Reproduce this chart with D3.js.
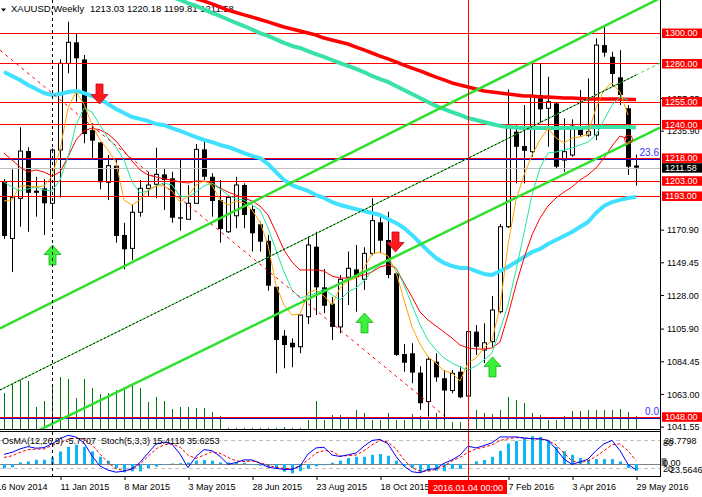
<!DOCTYPE html>
<html>
<head>
<meta charset="utf-8">
<script src="https://d3js.org/d3.v7.min.js"></script>
<style>
  body { margin: 0; background: #fff; }
  svg { display: block; font-family: "Liberation Sans", Arial, sans-serif; font-size: 9px; }
</style>
</head>
<body>
<div id="chart"></div>
<script>
// XAUUSD weekly bars (bar 0 = 23 Nov 2014, bar 79 = 29 May 2016)
const opens = [1202.4,1165.1,1191.5,1222.5,1196.5,1198.0,1188.2,1223.2,1280.1,1293.9,
  1282.7,1236.3,1228.2,1202.0,1212.9,1167.4,1158.6,1182.3,1198.0,1200.7,
  1207.2,1204.6,1179.0,1177.7,1188.2,1223.6,1205.6,1190.3,1169.5,1180.0,
  1200.2,1184.4,1174.4,1163.6,1133.4,1101.2,1096.6,1094.0,1113.7,1159.7,
  1133.0,1122.3,1107.0,1139.6,1144.8,1138.3,1155.3,1175.7,1164.1,1142.2,
  1089.2,1089.7,1077.0,1058.0,1084.2,1073.3,1065.2,1077.6,1061.6,1103.9,
  1091.9,1097.3,1117.0,1172.8,1235.2,1225.8,1222.1,1259.3,1250.6,1253.8,
  1216.6,1219.9,1238.9,1233.0,1233.0,1292.1,1284.4,1270.9,1250.6,1213.03];
const highs = [1204.1,1210.5,1238.1,1225.0,1205.6,1204.0,1224.3,1282.7,1307.4,1299.8,
  1285.6,1240.7,1228.2,1219.9,1216.6,1175.4,1187.1,1203.5,1208.9,1224.7,
  1211.2,1208.9,1217.1,1200.2,1227.1,1230.2,1207.9,1203.5,1193.0,1205.6,
  1201.3,1187.1,1176.1,1167.4,1133.4,1105.0,1099.5,1114.8,1166.3,1169.5,
  1145.0,1126.7,1141.1,1156.5,1160.8,1159.3,1191.5,1181.6,1182.7,1143.0,
  1095.8,1096.3,1081.2,1087.5,1089.7,1078.7,1078.7,1081.2,1106.0,1108.2,
  1109.4,1127.3,1174.6,1263.0,1239.6,1252.7,1280.1,1280.1,1271.3,1254.5,
  1244.0,1243.3,1262.6,1270.2,1296.5,1304.1,1287.7,1288.8,1252.7,1220.18];
const lows = [1164.7,1143.0,1172.8,1169.5,1179.4,1167.4,1179.0,1192.0,1273.5,1254.9,
  1227.6,1216.6,1197.4,1190.3,1162.3,1144.8,1150.9,1179.4,1192.5,1191.5,
  1183.8,1175.4,1170.2,1177.7,1188.2,1203.5,1179.4,1162.3,1168.7,1171.8,
  1171.8,1156.5,1156.5,1130.8,1076.6,1079.8,1080.5,1089.7,1108.9,1114.8,
  1116.0,1098.4,1102.8,1121.4,1117.0,1131.3,1154.0,1155.3,1138.9,1088.0,
  1077.6,1070.0,1052.5,1048.1,1071.0,1045.9,1063.4,1060.2,1061.0,1088.6,
  1083.1,1094.0,1116.0,1172.0,1201.3,1201.3,1218.8,1240.7,1225.3,1211.2,
  1208.9,1218.8,1231.9,1231.9,1229.7,1284.4,1264.7,1252.7,1206.8,1199.81];
const closes = [1166.7,1191.9,1222.5,1195.1,1195.1,1188.2,1223.2,1280.1,1293.9,1283.4,
  1233.7,1229.3,1202.0,1212.9,1166.7,1158.0,1182.3,1198.0,1200.2,1207.2,
  1203.5,1178.7,1178.1,1188.2,1223.6,1205.6,1189.7,1171.3,1192.1,1200.2,
  1180.5,1168.5,1163.0,1134.1,1098.4,1095.1,1093.6,1114.8,1160.8,1133.0,
  1120.9,1107.0,1138.3,1145.5,1139.6,1155.3,1176.8,1163.6,1141.1,1088.6,
  1083.5,1077.0,1056.9,1085.8,1073.9,1065.2,1076.5,1060.8,1103.9,1094.0,
  1096.6,1118.1,1172.8,1238.9,1225.3,1222.7,1258.6,1249.9,1254.9,1212.2,
  1222.1,1238.9,1233.0,1235.2,1292.1,1287.1,1273.1,1259.3,1212.2,1211.58];
// tick volume (thousands)
const volumes = [39,48,52,51,25,31,47,55,53,34, 53,44,38,39,42,43,47,44,30,35,
  31,23,25,25,24,24,20,16,4,4, 4,4,4,4,4,5,4,4,12,31,
  12,17,17,15,22,19,12,12,19,12, 12,18,16,12,19,18,10,10,10,22,
  19,18,22,35,32,29,19,17,12,12, 16,21,21,22,22,22,22,23,20,16];

// moving averages
const maFast = [1189.7,1190.4,1199.6,1199.6,1198.9,1199.6,1206.1,1223.2,1250.8,1261.3,
  1253.4,1239.6,1229.8,1223.2,1215.3,1190.4,1187.1,1190.4,1196.9,1199.6,
  1199.6,1196.3,1189.0,1193.0,1200.2,1202.8,1200.2,1190.4,1187.1,1189.7,
  1188.4,1183.8,1175.9,1160.8,1134.5,1121.4,1114.8,1115.5,1129.3,1131.3,
  1127.3,1121.4,1132.6,1137.2,1139.1,1145.7,1154.9,1156.2,1153.6,1143.1,
  1124.7,1107.0,1095.8,1087.3,1083.3,1078.1,1076.8,1071.5,1083.3,1086.6,
  1093.2,1098.4,1120.1,1160.8,1190.4,1206.8,1219.9,1229.8,1237.6,1231.1,
  1227.8,1231.1,1231.7,1233.7,1250.8,1262.6,1267.2,1261.3,1246.2,null];
const maMid = [1202.2,1198.9,1196.3,1197.6,1198.9,1196.9,1196.3,1203.5,1218.6,1239.6,
  1250.8,1248.1,1239.6,1231.1,1225.2,1216.6,1202.2,1195.0,1196.3,1199.6,
  1201.5,1200.2,1193.0,1192.3,1195.6,1199.6,1201.5,1197.6,1193.6,1191.0,
  1190.4,1187.1,1183.8,1172.0,1157.5,1143.1,1131.3,1126.0,1127.3,1129.3,
  1131.9,1128.0,1124.7,1129.9,1132.6,1137.2,1143.7,1147.7,1150.3,1145.7,
  1134.5,1121.4,1108.3,1098.4,1091.9,1086.6,1083.3,1080.7,1078.7,1081.3,
  1085.3,1089.9,1105.0,1121.4,1144.4,1168.7,1193.6,1211.4,1221.2,1221.9,
  1223.2,1224.5,1226.5,1228.4,1233.0,1242.9,1252.7,1258.0,1256.0,null];
const maSlow = [1221.2,1216.6,1212.0,1208.7,1210.1,1208.7,1206.1,1208.7,1218.6,1229.8,
  1235.7,1237.6,1236.3,1233.7,1229.1,1222.5,1216.0,1210.1,1206.8,1205.5,
  1204.2,1203.5,1202.2,1201.5,1202.8,1202.8,1201.5,1198.2,1195.6,1193.6,
  1191.7,1189.7,1186.4,1180.5,1169.3,1157.5,1149.6,1144.4,1144.4,1144.4,
  1143.7,1140.4,1139.1,1139.1,1139.8,1141.1,1143.1,1146.4,1147.7,1145.7,
  1135.9,1126.7,1116.8,1111.6,1107.6,1103.7,1099.7,1095.1,1093.2,1092.5,
  1092.5,1093.2,1097.1,1114.8,1134.5,1152.3,1167.4,1178.5,1186.4,1191.7,
  1195.6,1198.9,1203.5,1206.8,1211.4,1217.9,1225.8,1232.4,1230.5,null];
const ma50 = [1274.4,1271.8,1269.2,1265.9,1263.3,1260.6,1259.3,1260.0,1261.3,1261.9,
  1260.6,1258.7,1256.7,1253.4,1250.1,1247.5,1244.9,1243.6,1242.2,1240.3,
  1239.6,1237.6,1235.7,1233.7,1231.7,1229.8,1228.4,1226.5,1225.2,1223.2,
  1221.2,1219.3,1217.9,1214.0,1208.7,1203.5,1200.2,1198.2,1196.3,1193.6,
  1191.7,1189.0,1187.1,1185.8,1184.4,1183.1,1181.8,1180.5,1177.9,1175.3,
  1172.0,1167.4,1162.1,1156.9,1152.3,1149.0,1147.0,1145.7,1145.7,1143.7,
  1141.8,1141.1,1143.7,1146.4,1149.6,1152.9,1156.2,1158.2,1161.5,1164.1,
  1166.7,1169.3,1172.6,1175.9,1181.8,1186.4,1189.0,1190.4,1191.7,1192.3];
const ma100 = [null,null,null,null,null,null,null,null,null,null,
  null,null,null,null,null,null,null,null,null,null,
  null,1323.7,1321.7,1319.7,1317.8,1315.5,1313.2,1311.2,1308.9,1306.6,
  1304.6,1302.3,1300.0,1298.1,1295.8,1293.5,1291.5,1290.2,1288.2,1286.2,
  1284.3,1282.3,1280.3,1278.4,1276.4,1274.4,1271.8,1269.8,1267.9,1265.2,
  1262.6,1260.0,1257.3,1254.7,1252.1,1250.1,1248.1,1246.2,1244.2,1242.9,
  1241.6,1240.3,1239.0,1238.3,1238.0,1237.6,1237.6,1237.6,1237.6,1237.6,
  1237.6,1237.6,1237.6,1238.0,1238.3,1238.3,1238.3,1238.3,1238.3,1238.0];
const ma200 = [null,null,null,null,null,null,null,null,null,null,
  null,null,null,null,null,null,null,null,null,null,
  null,null,null,null,1322.4,1321.0,1319.1,1317.1,1315.1,1313.5,
  1311.9,1310.5,1308.9,1307.3,1305.6,1304.0,1302.7,1301.3,1300.0,1298.7,
  1296.7,1295.4,1294.1,1292.8,1290.8,1288.9,1286.9,1284.9,1283.0,1281.0,
  1279.0,1277.0,1275.1,1273.1,1271.1,1269.2,1267.2,1265.9,1264.6,1263.3,
  1261.9,1261.3,1260.6,1260.0,1259.3,1258.7,1258.7,1258.0,1258.0,1257.7,
  1257.3,1257.3,1257.0,1256.7,1256.7,1256.7,1256.7,1256.7,1256.4,1256.4];

// OsMA(12,26,9) and Stoch(5,3,3)
const osma = [-3.8,-2.9,1.4,2.2,3.7,3.7,5.7,10.9,15.0,16.7,
  15.0,10.9,6.3,2.9,-3.5,-7.3,-6.4,-6.4,-3.5,-2.3,
  -0.9,0.4,0.7,1.3,2.9,3.5,2.9,1.4,1.4,1.7,
  1.1,-0.9,-1.5,-2.9,-4.3,-6.7,-8.1,-6.3,-4.3,-2.0,
  -1.1,1.1,2.9,5.2,6.3,6.3,8.0,8.6,7.2,2.9,
  -1.5,-3.5,-7.2,-6.3,-5.8,-6.3,-4.3,-4.3,-0.9,2.3,
  3.5,6.3,11.5,17.9,20.1,22.5,24.2,23.6,21.0,15.0,
  11.2,8.0,5.2,3.6,4.3,4.3,4.3,2.3,-3.5,-5.7707];
const stochMain = [49.4,53.9,61.4,66.5,62.9,64.3,72.6,83.9,91.4,87.8,
  74.9,46.2,23.7,14.7,10.2,12.4,17.8,31.4,52.3,72.0,
  76.5,72.0,50.1,20.1,44.9,59.8,57.5,44.9,27.5,31.4,
  37.2,37.2,29.8,21.4,18.5,16.2,16.2,23.7,50.1,63.6,
  65.2,47.8,44.9,48.3,52.3,67.4,80.1,82.3,72.6,44.9,
  23.7,11.1,8.8,16.2,17.8,29.8,37.2,47.8,67.4,63.6,
  68.8,74.9,87.8,87.8,87.8,85.5,83.9,83.9,80.1,61.4,
  38.8,27.5,32.7,38.8,57.5,72.6,80.1,57.5,27.5,15.4];
const stochSignal = [42.6,46.2,53.9,59.8,60.7,61.4,68.8,74.9,82.3,85.5,
  82.3,70.4,50.1,31.4,17.8,13.3,16.2,27.5,44.9,61.4,
  70.4,72.6,65.2,47.8,40.4,47.8,55.3,51.7,42.6,35.0,
  33.6,35.0,31.4,25.3,20.8,18.5,17.8,23.7,37.2,52.3,
  57.5,56.2,45.6,46.7,47.8,57.5,70.4,80.1,76.5,61.4,
  37.2,20.1,12.4,12.4,16.2,23.7,35.0,42.6,53.9,61.4,
  65.2,70.4,80.1,83.9,86.2,85.5,83.9,82.3,80.1,70.4,
  52.3,35.0,31.4,35.0,44.9,57.5,70.4,72.6,57.5,35.6];

// horizontal levels, fibo, trend lines (bar index, price), arrows
const levels = [1300, 1280, 1255, 1240, 1218, 1203, 1193, 1048];
const fiboLevels = [1047.2, 1217.6];
const fiboLabels = ['0.0', '23.6'];
const lastPrice = 1211.58;
const channelUpper = [[0, 1107.4], [80, 1317.6]];
const channelLower = [[10, 1053.6], [79, 1230.2]];
const channelMid = [[0, 1066.9], [79, 1272.4]];
const downTrend = [[-0.5, 1288.7], [55, 1048.8]];
const upArrows = [[6, 1160.8], [45, 1116.2], [61, 1087.3]];
const downArrows = [[12, 1253.4], [49, 1156.2]];
const stopMark = [78, 1230.3];
const markedBar = 6;     // dashed vertical
const crossBar = 58;     // crosshair
const crossLabel = '2016.01.04 00:00';

// axis labels that are not hidden behind the level boxes
const priceTicks = [1041.55, 1063.00, 1084.45, 1105.90, 1128.00, 1149.45, 1170.90,
  1235.90, 1257.35];
const dateTicks = [-1, 7, 15, 23, 31, 39, 47, 63, 71, 79];
const dateLabels = ['16 Nov 2014', '11 Jan 2015', '8 Mar 2015', '3 May 2015', '28 Jun 2015',
  '23 Aug 2015', '18 Oct 2015', '7 Feb 2016', '3 Apr 2016', '29 May 2016'];

// ---- layout
let width = 702, height = 497;
let plotRight = 660, mainBottom = 429, subTop = 432, subBottom = 476;

let svg = d3.select('#chart')
  .append('svg')
  .attr('width', width)
  .attr('height', height)
  .style('background', '#fff');

let x = d3.scaleLinear().domain([0, 79]).range([4, 636]);
let y = d3.scaleLinear().domain([1038.0, 1321.7]).range([432, 0]);
let vol = d3.scaleLinear().domain([0, 100]).range([432, 332]);
let stoY = d3.scaleLinear().domain([0, 100]).range([476.8, 431.4]);
let osY = d3.scaleLinear().domain([0, 28.7798]).range([464, 431]);

const crisp = v => Math.round(v) + 0.5;

let defs = svg.append('defs');
defs.append('clipPath').attr('id', 'clipMain')
  .append('rect').attr('x', 0).attr('y', 0).attr('width', plotRight).attr('height', mainBottom);
defs.append('clipPath').attr('id', 'clipSub')
  .append('rect').attr('x', 0).attr('y', subTop).attr('width', plotRight).attr('height', subBottom - subTop);

// title
svg.append('path').attr('d', 'M1,8.5 L6,8.5 L3.5,11.5 Z').attr('fill', '#000');
svg.append('text').attr('x', 11).attr('y', 12).style('font-size', '9.5px').text('XAUUSD,Weekly');
svg.append('text').attr('x', 90).attr('y', 12).style('font-size', '9.5px')
  .text([opens[79], highs[79], lows[79], closes[79]].map(d => d.toFixed(2)).join(' '));

let main = svg.append('g').attr('clip-path', 'url(#clipMain)');

// volumes
main.selectAll('.vol')
  .data(volumes)
  .enter().append('line')
  .attr('x1', (d, i) => x(i) + 0.5).attr('x2', (d, i) => x(i) + 0.5)
  .attr('y1', vol(0)).attr('y2', d => vol(d))
  .attr('stroke', '#008000').attr('stroke-width', 1);

// candles
let bars = d3.range(opens.length);
main.selectAll('.wick')
  .data(bars)
  .enter().append('line')
  .attr('x1', i => x(i) + 0.5).attr('x2', i => x(i) + 0.5)
  .attr('y1', i => y(highs[i])).attr('y2', i => y(lows[i]))
  .attr('stroke', '#000').attr('stroke-width', 1);

main.selectAll('.body')
  .data(bars)
  .enter().append('rect')
  .attr('x', i => closes[i] >= opens[i] ? x(i) - 1.5 : x(i) - 2)
  .attr('width', i => closes[i] >= opens[i] ? 4 : 5)
  .attr('y', i => y(Math.max(opens[i], closes[i])))
  .attr('height', i => Math.max(1, Math.abs(y(opens[i]) - y(closes[i]))))
  .attr('fill', i => closes[i] >= opens[i] ? '#fff' : '#000')
  .attr('stroke', i => closes[i] >= opens[i] ? '#000' : 'none')
  .attr('stroke-width', 1);

// horizontal levels
main.selectAll('.lvl')
  .data(levels)
  .enter().append('line')
  .attr('x1', 0).attr('x2', plotRight)
  .attr('y1', d => crisp(y(d))).attr('y2', d => crisp(y(d)))
  .attr('stroke', '#ff0000').attr('stroke-width', 1);

main.selectAll('.fib')
  .data(fiboLevels)
  .enter().append('line')
  .attr('x1', 0).attr('x2', plotRight)
  .attr('y1', d => crisp(y(d))).attr('y2', d => crisp(y(d)))
  .attr('stroke', '#1010c8').attr('stroke-width', 1);

main.append('line')
  .attr('x1', 0).attr('x2', plotRight)
  .attr('y1', crisp(y(lastPrice))).attr('y2', crisp(y(lastPrice)))
  .attr('stroke', '#c0c0c0');

main.selectAll('.fibtxt')
  .data(fiboLevels)
  .enter().append('text')
  .attr('x', 659).attr('y', d => y(d) - 3)
  .attr('text-anchor', 'end')
  .attr('fill', '#3333ff')
  .style('font-size', '10px')
  .text((d, i) => fiboLabels[i]);

// moving averages
function maLine(values) {
  return d3.line()
    .defined(d => d != null)
    .x((d, i) => x(i))
    .y(d => y(d))(values);
}
const maStyles = [
  { data: ma50,  color: '#40e0ff', w: 4 },
  { data: ma100, color: '#38e2a6', w: 4 },
  { data: ma200, color: '#ff0000', w: 3.5 },
  { data: maSlow, color: '#ff0000', w: 1 },
  { data: maMid,  color: '#1ee89a', w: 1 },
  { data: maFast, color: '#ffa500', w: 1 }
];
maStyles.forEach(s => {
  main.append('path')
    .attr('d', maLine(s.data))
    .attr('fill', 'none')
    .attr('stroke', s.color)
    .attr('stroke-width', s.w)
    .attr('stroke-linejoin', 'round');
});

// trend lines (rays extended across the window)
function ray(pts, iFrom, iTo) {
  let k = (pts[1][1] - pts[0][1]) / (pts[1][0] - pts[0][0]);
  let at = i => pts[0][1] + k * (i - pts[0][0]);
  return [[x(iFrom), y(at(iFrom))], [x(iTo), y(at(iTo))]];
}
const xEdge = x.invert(plotRight), xLeft = x.invert(0);

main.append('path').attr('d', d3.line()(ray(channelUpper, xLeft, xEdge)))
  .attr('stroke', '#2fe02f').attr('stroke-width', 2.5).attr('fill', 'none');
main.append('path').attr('d', d3.line()(ray(channelLower, xLeft, xEdge)))
  .attr('stroke', '#2fe02f').attr('stroke-width', 2.5).attr('fill', 'none');

main.append('path').attr('d', d3.line()(ray(channelMid, xLeft, 79)))
  .attr('stroke', '#2fe02f').attr('stroke-width', 1).attr('fill', 'none');
main.append('path').attr('d', d3.line()(ray(channelMid, xLeft, 79)))
  .attr('stroke', '#000').attr('stroke-width', 1).attr('stroke-dasharray', '2,2').attr('fill', 'none');
main.append('path').attr('d', d3.line()(ray(channelMid, 79, xEdge)))
  .attr('stroke', '#2fe02f').attr('stroke-width', 1).attr('stroke-dasharray', '3,3').attr('fill', 'none');

main.append('path').attr('d', d3.line()(ray(downTrend, xLeft, downTrend[1][0])))
  .attr('stroke', '#ff0000').attr('stroke-width', 1).attr('stroke-dasharray', '3,4').attr('fill', 'none');

// arrows
function arrowPath(cx, ty, s) {
  return `M${cx},${ty} L${cx + 8.5},${ty + s * 9.5} L${cx + 3.5},${ty + s * 9.5} L${cx + 3.5},${ty + s * 20}` +
         ` L${cx - 3.5},${ty + s * 20} L${cx - 3.5},${ty + s * 9.5} L${cx - 8.5},${ty + s * 9.5} Z`;
}
main.selectAll('.up')
  .data(upArrows)
  .enter().append('path')
  .attr('d', d => arrowPath(x(d[0]) + 0.5, y(d[1]), 1))
  .attr('fill', '#3cf03c').attr('stroke', '#18b018').attr('stroke-width', 0.8);
main.selectAll('.down')
  .data(downArrows)
  .enter().append('path')
  .attr('d', d => arrowPath(x(d[0]) - 0.5, y(d[1]), -1))
  .attr('fill', '#ff1a1a').attr('stroke', '#c80030').attr('stroke-width', 0.8);

main.append('circle')
  .attr('cx', x(stopMark[0]) + 0.5).attr('cy', y(stopMark[1]))
  .attr('r', 4).attr('fill', 'none').attr('stroke', '#ff0000').attr('stroke-width', 1);

// ---- sub window: OsMA + Stoch
let sub = svg.append('g').attr('clip-path', 'url(#clipSub)');

sub.selectAll('.lvlsto')
  .data([80, 20])
  .enter().append('line')
  .attr('x1', 0).attr('x2', plotRight)
  .attr('y1', d => crisp(stoY(d))).attr('y2', d => crisp(stoY(d)))
  .attr('stroke', '#c0c0c0').attr('stroke-dasharray', '4,3');

sub.append('line')
  .attr('x1', 0).attr('x2', plotRight)
  .attr('y1', crisp(osY(0))).attr('y2', crisp(osY(0)))
  .attr('stroke', '#808080');

sub.selectAll('.osma')
  .data(osma)
  .enter().append('rect')
  .attr('x', (d, i) => x(i) - 1)
  .attr('width', 3)
  .attr('y', d => Math.min(osY(d), osY(0)))
  .attr('height', d => Math.abs(osY(d) - osY(0)))
  .attr('fill', '#0fb4f5');

let stoLine = d3.line().x((d, i) => x(i)).y(d => stoY(d));
sub.append('path').attr('d', stoLine(stochSignal))
  .attr('fill', 'none').attr('stroke', '#ff0000').attr('stroke-width', 1).attr('stroke-dasharray', '3,2');
sub.append('path').attr('d', stoLine(stochMain))
  .attr('fill', 'none').attr('stroke', '#0000ff').attr('stroke-width', 1);

svg.append('text').attr('x', 2).attr('y', 443.5)
  .style('white-space', 'pre')
  .text('OsMA(12,26,9) -5.7707  Stoch(5,3,3) 15.4118 35.6253');

// vertical markers
svg.append('line')
  .attr('x1', x(markedBar) + 0.5).attr('x2', x(markedBar) + 0.5)
  .attr('y1', 0).attr('y2', 480)
  .attr('stroke', '#000').attr('stroke-dasharray', '3,3');
svg.append('line')
  .attr('x1', x(crossBar) + 0.5).attr('x2', x(crossBar) + 0.5)
  .attr('y1', 0).attr('y2', 480)
  .attr('stroke', '#ff0000');

// frames
svg.append('line').attr('x1', 0).attr('x2', plotRight + 0.5).attr('y1', mainBottom + 0.5).attr('y2', mainBottom + 0.5).attr('stroke', '#000');
svg.append('line').attr('x1', 0).attr('x2', plotRight + 0.5).attr('y1', subTop - 0.5).attr('y2', subTop - 0.5).attr('stroke', '#000');
svg.append('line').attr('x1', 0).attr('x2', plotRight + 0.5).attr('y1', subBottom + 0.5).attr('y2', subBottom + 0.5).attr('stroke', '#000');
svg.append('line').attr('x1', plotRight + 0.5).attr('x2', plotRight + 0.5).attr('y1', 0).attr('y2', subBottom + 1).attr('stroke', '#000');

// price axis
let yAxis = svg.append('g')
  .attr('transform', `translate(${plotRight + 1}, 0)`)
  .call(d3.axisRight(y).tickValues(priceTicks).tickFormat(d3.format('.2f')).tickSize(3).tickPadding(3));
yAxis.select('.domain').remove();
yAxis.selectAll('text').style('font-family', '"Liberation Sans", Arial, sans-serif').style('font-size', '9px').attr('dy', '0.35em');

// level boxes
let boxes = levels.map(d => ({ p: d, bg: '#ff0000' })).concat([{ p: lastPrice, bg: '#000' }]);
boxes.forEach(b => {
  svg.append('rect')
    .attr('x', 662).attr('y', y(b.p) - 4.5)
    .attr('width', 40).attr('height', 9.5)
    .attr('fill', b.bg);
  svg.append('text')
    .attr('x', 665).attr('y', y(b.p) + 3.3)
    .attr('fill', '#fff')
    .text(b.p.toFixed(2));
});

// sub window scale labels
svg.append('text').attr('x', 664).attr('y', 443.5).text('28.7798');
svg.append('text').attr('x', 663).attr('y', 446).text('80');
svg.append('rect').attr('x', 661.5).attr('y', 458).attr('width', 5).attr('height', 8).attr('fill', '#808080');
svg.append('text').attr('x', 663).attr('y', 466).text('0.00');
svg.append('text').attr('x', 663).attr('y', 471.5).text('20');
svg.append('text').attr('x', 667).attr('y', 473).text('-23.5646');

// time axis
let xAxis = svg.append('g')
  .attr('transform', `translate(0, ${subBottom + 1})`)
  .call(d3.axisBottom(x).tickValues(dateTicks).tickFormat((d, k) => dateLabels[k]).tickSize(3));
xAxis.select('.domain').remove();
xAxis.selectAll('.tick line').attr('transform', 'translate(0.5,0)');
xAxis.selectAll('text')
  .style('font-family', '"Liberation Sans", Arial, sans-serif')
  .style('font-size', '9px')
  .attr('text-anchor', 'start')
  .attr('x', 0)
  .attr('y', 13)
  .attr('dy', 0);

// crosshair date label
svg.append('rect')
  .attr('x', x(crossBar) - 40).attr('y', 480)
  .attr('width', 79).attr('height', 14)
  .attr('fill', '#ff0000');
svg.append('text')
  .attr('x', x(crossBar)).attr('y', 490.5)
  .attr('text-anchor', 'middle')
  .attr('fill', '#fff')
  .text(crossLabel);
</script>
</body>
</html>
